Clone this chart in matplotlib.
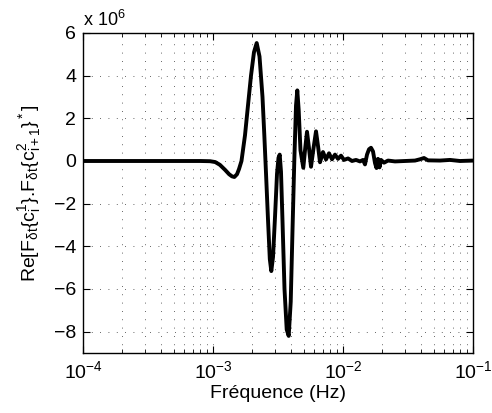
import matplotlib
matplotlib.use("Agg")
import matplotlib.pyplot as plt
import numpy as np

plt.rcParams['font.family'] = ['Liberation Sans', 'DejaVu Sans']
plt.rcParams['mathtext.fontset'] = 'custom'
plt.rcParams['mathtext.rm'] = 'Liberation Sans'
plt.rcParams['mathtext.it'] = 'Liberation Sans'
plt.rcParams['mathtext.default'] = 'regular'

# frequency (Hz) and Re[...] values (in units of 1e6)
freq_mhz = [0.10, 0.30, 0.60, 0.80, 0.95, 1.04, 1.13, 1.24, 1.33, 1.40, 1.46, 1.53,
            1.585, 1.656, 1.762, 1.858, 1.960, 2.066, 2.168, 2.279, 2.403, 2.482,
            2.558, 2.651, 2.735, 2.808, 2.895, 3.000, 3.107, 3.190, 3.259, 3.334,
            3.424, 3.548, 3.689, 3.822, 3.961, 4.090, 4.220, 4.350, 4.450, 4.560,
            4.709, 4.950, 5.101, 5.285, 5.476, 5.673, 5.931, 6.199, 6.423, 6.654,
            7.017, 7.399, 7.803, 8.228, 8.677, 9.152, 9.652, 10.18, 10.93, 11.73,
            12.59, 13.51, 14.25, 14.76, 15.30, 15.85, 16.42, 17.01, 17.63, 18.10,
            18.58, 19.09, 19.60, 20.67, 22.19, 25.12, 29.98, 35.79, 39.11, 41.98,
            45.05, 55.74, 66.53, 79.43, 100.0]
re_e6 = [0, 0, 0, 0, -0.01, -0.05, -0.18, -0.42, -0.62, -0.72, -0.75, -0.62,
         -0.38, 0.0, 1.2, 2.6, 4.0, 5.1, 5.53, 4.9, 3.0, 1.2,
         -0.6, -2.8, -4.6, -5.16, -4.5, -2.6, -0.6, 0.15, 0.30, -0.5,
         -2.8, -6.0, -7.9, -8.2, -6.6, -3.2, 0.0, 2.6, 3.31, 2.4,
         0.5, -0.32, 0.5, 1.37, 0.6, -0.27, 0.6, 1.39, 0.7, -0.06,
         0.42, 0.07, 0.36, 0.08, 0.30, 0.10, 0.25, 0.05, 0.12, 0.0,
         0.05, -0.02, 0.05, -0.16, 0.3, 0.55, 0.62, 0.45, -0.1, -0.33,
         0.1, -0.3, 0.05, -0.08, 0.02, -0.02, 0.0, 0.02, 0.08, 0.14,
         0.03, 0.02, 0.05, 0.0, 0.02]

freq = np.array(freq_mhz) * 1e-3
re = np.array(re_e6)

fig = plt.figure(figsize=(4.92, 4.13), dpi=100)
ax = fig.add_axes([0.1687, 0.1453, 0.7927, 0.7748])

ax.semilogx(freq, re, color='black', lw=2.8, solid_joinstyle='round')

ax.set_xlim(1e-4, 1e-1)
ax.set_ylim(-9, 6)
ax.set_yticks([-8, -6, -4, -2, 0, 2, 4, 6])

ax.grid(True, which='major', axis='both', color='#333333', lw=0.6, ls=(0, (1, 9)))
ax.grid(True, which='minor', axis='x', color='#333333', lw=0.6, ls=(0, (1, 9)))

ax.tick_params(which='both', direction='in', top=True, right=True, labelsize=14)
ax.tick_params(which='major', length=5, pad=5)
ax.tick_params(which='minor', length=3)
for s in ax.spines.values():
    s.set_linewidth(1.0)

ax.set_xlabel('Fréquence (Hz)', fontsize=14, labelpad=2)
ax.set_ylabel(r'Re[F$_{\delta t}${c$_i^1$}.F$_{\delta t}${c$_{i+1}^2$}$^*$]', fontsize=14, labelpad=8)
ax.text(0.0, 1.01, r'x 10$^6$', transform=ax.transAxes, fontsize=13, va='bottom', ha='left')

fig.savefig('out.png', dpi=100)
